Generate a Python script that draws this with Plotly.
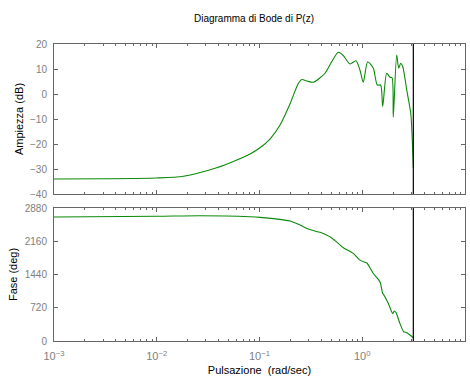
import plotly.graph_objects as go
import numpy as np

# ---- data ----
w_mag = [0.001, 0.00316, 0.01, 0.0182, 0.0383, 0.0556, 0.0809, 0.101, 0.1265, 0.158,
         0.198, 0.239, 0.258, 0.29, 0.334, 0.434, 0.504, 0.585, 0.650, 0.760, 0.869,
         0.951, 1.023, 1.130, 1.282, 1.400, 1.51, 1.581, 1.730, 1.862, 1.95, 2.004,
         2.163, 2.265, 2.366, 2.477, 2.710, 2.965, 3.069, 3.1416]
mag_db = [-34, -33.9, -33.6, -32.9, -29.5, -27, -24, -21.5, -18, -12.5,
          -4, 4.3, 5.8, 5.2, 4.7, 8.3, 12.9, 16.7, 15.5, 12, 13.3,
          9.5, 4.7, 12.9, 10.3, 3.6, 3.6, -5, 8.3, 6.7, 6.5, -9.3,
          15.6, 10.3, 12.3, 11, 1.6, -7.7, -18.4, -29.7]

w_ph = [0.001, 0.01, 0.0264, 0.0809, 0.101, 0.198, 0.248, 0.298, 0.389, 0.449, 0.485,
        0.585, 0.655, 0.818, 0.95, 1.07, 1.104, 1.282, 1.489, 1.58, 1.603, 1.795,
        1.98, 2.05, 2.13, 2.24, 2.328, 2.54, 2.606, 3.0, 3.1416]
phase_deg = [2685, 2700, 2713, 2691, 2678, 2598, 2511, 2424, 2353, 2294, 2257,
             2113, 2018, 1897, 1751, 1701, 1693, 1463, 1280, 1029, 1014, 812,
             595, 651, 616, 486, 378, 195, 195, 109, 65]

w_nyq = np.pi
x_tickvals = [0.001, 0.01, 0.1, 1, 10]
x_ticktext = ["10<sup>\u22123</sup>", "10<sup>\u22122</sup>", "10<sup>\u22121</sup>",
              "10<sup>0</sup>", "10<sup>1</sup>"]
mag_ticks = [-40, -30, -20, -10, 0, 10, 20]
mag_ticktext = ["\u221240", "\u221230", "\u221220", "\u221210", "0", "10", "20"]
ph_ticks = [0, 720, 1440, 2160, 2880]

minor_vals = [m * 10.0 ** k for k in range(-3, 1) for m in range(2, 10)]

GREEN = "#0a8a0a"
AXC = "#666666"
TXT = "#808080"
FONT = "Liberation Sans, Arial, sans-serif"

fig = go.Figure()
fig.add_trace(go.Scatter(x=w_mag, y=mag_db, mode="lines",
                         line=dict(color=GREEN, width=1.1, shape="spline", smoothing=0.7),
                         xaxis="x", yaxis="y", showlegend=False))
fig.add_trace(go.Scatter(x=w_ph, y=phase_deg, mode="lines",
                         line=dict(color=GREEN, width=1.1, shape="spline", smoothing=0.7),
                         xaxis="x2", yaxis="y2", showlegend=False))

for xr, yr in (("x", "y"), ("x2", "y2")):
    fig.add_shape(type="line", xref=xr, yref=yr + " domain", x0=w_nyq, x1=w_nyq,
                  y0=0, y1=1, line=dict(color="black", width=1.2))

common_x = dict(type="log", range=[-3, 1], showline=True, linecolor=AXC, linewidth=1,
                mirror="ticks", ticks="inside", ticklen=4, tickcolor=AXC,
                tickvals=x_tickvals, showgrid=False, zeroline=False, automargin=False,
                minor=dict(tickvals=minor_vals, ticks="inside", ticklen=2,
                           tickcolor=AXC, showgrid=False))
fig.update_layout(
    width=470, height=376,
    margin=dict(l=54, r=5, t=44, b=35),
    paper_bgcolor="white", plot_bgcolor="white",
    font=dict(family=FONT, size=10, color="black"),
    title=dict(text="Diagramma di Bode di P(z)", x=254 / 470, xref="container",
               xanchor="center", y=1 - 18 / 376, yref="container", yanchor="middle",
               font=dict(size=10, color="black")),
    xaxis=dict(common_x, anchor="y", showticklabels=False, domain=[0, 1]),
    xaxis2=dict(common_x, anchor="y2", ticktext=x_ticktext, domain=[0, 1],
                tickfont=dict(size=11, color=TXT), ticklabelstandoff=5,
                title=dict(text="Pulsazione\u00a0 (rad/sec)", font=dict(size=11, color="black"),
                           standoff=5)),
    yaxis=dict(domain=[0.4949, 1], range=[-40, 20], tickvals=mag_ticks, ticktext=mag_ticktext,
               showline=True, linecolor=AXC, mirror="ticks", ticks="inside", ticklen=4,
               tickcolor=AXC, showgrid=False, zeroline=False, ticklabelstandoff=4,
               automargin=False, tickfont=dict(size=10, color=TXT),
               title=dict(text="Ampiezza (dB)", font=dict(size=11, color="black"), standoff=4)),
    yaxis2=dict(domain=[0, 0.4478], range=[0, 2880], tickvals=ph_ticks,
                showline=True, linecolor=AXC, mirror="ticks", ticks="inside", ticklen=4,
                tickcolor=AXC, showgrid=False, zeroline=False, ticklabelstandoff=4,
                automargin=False, tickfont=dict(size=10, color=TXT),
                title=dict(text="Fase (deg)", font=dict(size=11, color="black"), standoff=4)),
)

fig.write_html("out.html")
